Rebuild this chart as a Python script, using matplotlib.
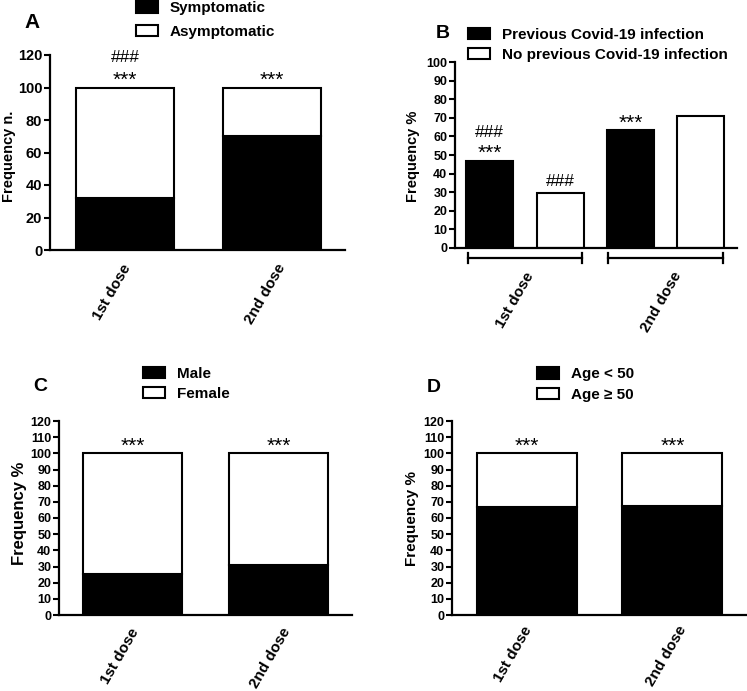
import numpy as np
import matplotlib
matplotlib.use('Agg')
import matplotlib.pyplot as plt
from matplotlib.patches import Patch
from matplotlib.transforms import ScaledTranslation, blended_transform_factory

plt.rcParams['font.family'] = ['Liberation Sans', 'DejaVu Sans']
plt.rcParams['font.weight'] = 'bold'

W, H = 747, 691

doses = ['1st dose', '2nd dose']

# A: counts
symptomatic = [32, 70]
asymptomatic = [68, 30]
sig_A = ['***', '***']
hash_A = ['###', '']

# B: percentages
prev_infection = [47, 63.5]
no_prev_infection = [29.5, 71]
sig_B_prev = ['***', '***']
hash_B_prev = ['###', '']
hash_B_noprev = ['###', '']

# C: percentages
male = [25.5, 31]
female = [74.5, 69]
sig_C = ['***', '***']

# D: percentages
age_under50 = [66.5, 67.5]
age_over50 = [33.5, 32.5]
sig_D = ['***', '***']

fig = plt.figure(figsize=(W / 100, H / 100), dpi=100)


def px_axes(left, right, top, bottom):
    return fig.add_axes([left / W, 1 - bottom / H, (right - left) / W, (bottom - top) / H])


def style(ax, ymax, ystep, tick_fs):
    for s in ['top', 'right']:
        ax.spines[s].set_visible(False)
    for s in ['left', 'bottom']:
        ax.spines[s].set_linewidth(1.6)
    ax.set_ylim(0, ymax)
    ax.set_yticks(np.arange(0, ymax + 1, ystep))
    ax.tick_params(axis='y', direction='out', length=4, width=1.5, pad=1.5, labelsize=tick_fs)


def xlabels(ax, pos, pad_px, dx_px=(3, 10), fs=11):
    ax.set_xticks(pos)
    ax.set_xticklabels(doses, rotation=60, ha='right', va='center',
                       rotation_mode='anchor', fontsize=fs)
    ax.tick_params(axis='x', length=0, pad=pad_px * 0.72)
    for lab, dx in zip(ax.get_xticklabels(), dx_px):
        lab.set_transform(lab.get_transform() + ScaledTranslation(dx / 100, 0, fig.dpi_scale_trans))


def stacked(ax, low, high, width):
    x = np.arange(len(doses))
    ax.bar(x, low, width, color='black', edgecolor='black', linewidth=1.5)
    ax.bar(x, high, width, bottom=low, color='white', edgecolor='black', linewidth=1.5)
    return x, np.array(low) + np.array(high)


def annotate(ax, xs, tops, texts, offset, fs):
    for x, t, s in zip(xs, tops, texts):
        if s:
            ax.annotate(s, xy=(x, t), xytext=(0, offset), textcoords='offset points',
                        ha='center', va='baseline', fontsize=fs, fontweight='normal')


def legend(labels, x_px, y_px, spacing):
    handles = [Patch(facecolor='black', edgecolor='black', linewidth=1.5),
               Patch(facecolor='white', edgecolor='black', linewidth=1.5)]
    fig.legend(handles, labels, loc='center left', bbox_to_anchor=(x_px / W, 1 - y_px / H),
               frameon=False, fontsize=11, handlelength=1.45, handleheight=0.75,
               handletextpad=0.75, labelspacing=spacing, borderpad=0, borderaxespad=0)


# ---- A ----
axA = px_axes(50, 345, 55, 250)
style(axA, 120, 20, 10.5)
xA, topA = stacked(axA, symptomatic, asymptomatic, 0.667)
axA.set_xlim(-0.51, 1.497)
xlabels(axA, xA, 15)
annotate(axA, xA, topA, sig_A, 1, 15)
annotate(axA, xA, topA, hash_A, 18, 12.5)
legend(['Symptomatic', 'Asymptomatic'], 136, 20, 0.62)
fig.text(9 / W, 1 - 156 / H, 'Frequency n.', rotation=90, ha='center', va='center', fontsize=10.5)
fig.text(32 / W, 1 - 22 / H, 'A', ha='center', va='center', fontsize=15)

# ---- B ----
axB = px_axes(455, 737, 62, 248)
style(axB, 100, 10, 9)
g = np.arange(len(doses))
wB = 0.335
axB.bar(g - 0.25, prev_infection, wB, color='black', edgecolor='black', linewidth=1.5)
axB.bar(g + 0.25, no_prev_infection, wB, color='white', edgecolor='black', linewidth=1.5)
axB.set_xlim(-0.498, 1.509)
xlabels(axB, g, 25, (6, 13))
annotate(axB, g - 0.25, prev_infection, sig_B_prev, 1, 15)
annotate(axB, g - 0.25, prev_infection, hash_B_prev, 17, 12.5)
annotate(axB, g + 0.25, no_prev_infection, hash_B_noprev, 5, 12.5)
tr = blended_transform_factory(axB.transData, axB.transAxes)
for c in g:
    x0, x1 = c - 0.25 - wB / 2 + 0.01, c + 0.25 + wB / 2 - 0.01
    axB.plot([x0, x1], [-0.054, -0.054], color='black', lw=1.6, transform=tr, clip_on=False)
    for xe in (x0, x1):
        axB.plot([xe, xe], [-0.027, -0.081], color='black', lw=1.6, transform=tr, clip_on=False)
legend(['Previous Covid-19 infection', 'No previous Covid-19 infection'], 468, 45, 0.42)
fig.text(413 / W, 1 - 156 / H, 'Frequency %', rotation=90, ha='center', va='center', fontsize=10.5)
fig.text(443 / W, 1 - 33 / H, 'B', ha='center', va='center', fontsize=14)

# ---- C ----
axC = px_axes(59, 352, 421, 615)
style(axC, 120, 10, 9)
xC, topC = stacked(axC, male, female, 0.678)
axC.set_xlim(-0.503, 1.503)
xlabels(axC, xC, 14, (3, 9))
annotate(axC, xC, topC, sig_C, 1, 15)
legend(['Male', 'Female'], 143, 384, 0.42)
fig.text(20 / W, 1 - 513 / H, 'Frequency %', rotation=90, ha='center', va='center', fontsize=12)
fig.text(40 / W, 1 - 387 / H, 'C', ha='center', va='center', fontsize=14)

# ---- D ----
axD = px_axes(452, 747, 421, 615)
style(axD, 120, 10, 9)
xD, topD = stacked(axD, age_under50, age_over50, 0.687)
axD.set_xlim(-0.515, 1.512)
xlabels(axD, xD, 12, (2, 11))
annotate(axD, xD, topD, sig_D, 1, 15)
legend(['Age < 50', 'Age \u2265 50'], 537, 384.5, 0.42)
fig.text(412 / W, 1 - 518 / H, 'Frequency %', rotation=90, ha='center', va='center', fontsize=11)
fig.text(434 / W, 1 - 388 / H, 'D', ha='center', va='center', fontsize=14)

fig.savefig('out.png', dpi=100)
